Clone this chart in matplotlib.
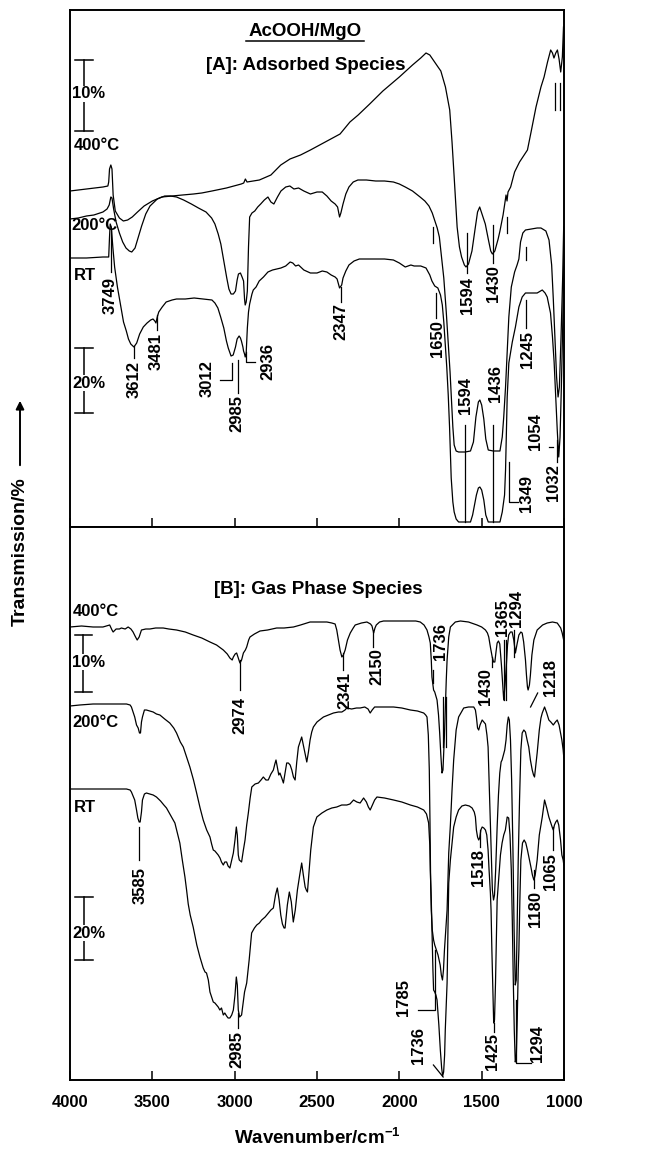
import matplotlib.pyplot as plt

plt.rcParams["font.family"] = ["Liberation Sans", "DejaVu Sans"]
plt.rcParams["font.weight"] = "bold"

# ---------------------------------------------------------------------------
# [A] adsorbed species: wavenumber (cm-1) / offset transmission (a.u.)
# ---------------------------------------------------------------------------
a400_wn = [4000, 3900, 3800, 3770, 3765, 3760, 3752, 3745, 3738, 3725, 3700, 3676,
           3650, 3622, 3590, 3550, 3500, 3443, 3380, 3317, 3250, 3200, 3138, 3050,
           2960, 2945, 2935, 2925, 2850, 2780, 2720, 2664, 2600, 2540, 2450, 2360,
           2300, 2250, 2180, 2100, 2000, 1920, 1870, 1838, 1815, 1790, 1765, 1748,
           1720, 1694, 1680, 1667, 1649, 1635, 1622, 1605, 1595, 1580, 1559, 1540,
           1525, 1512, 1500, 1478, 1460, 1445, 1435, 1420, 1400, 1389, 1370, 1360,
           1352, 1346, 1340, 1324, 1300, 1270, 1250, 1222, 1200, 1170, 1140, 1121,
           1100, 1081, 1070, 1061, 1050, 1040, 1030, 1020, 1010, 1003]
a400_t = [336, 338, 340, 341, 345, 358, 362, 358, 332, 316, 309, 306,
          307, 310, 315, 321, 326, 330, 331, 332, 333, 334, 336, 339,
          343, 344, 348, 345, 347, 352, 362, 368, 372, 377, 385, 393,
          405, 412, 423, 436, 450, 462, 469, 474, 472, 466, 460, 456,
          440, 417, 385, 350, 300, 280, 270, 262, 260, 263, 276, 298,
          315, 320, 314, 303, 288, 276, 273, 276, 288, 296, 312, 323,
          332, 326, 335, 340, 355, 365, 370, 377, 395, 420, 440, 450,
          465, 477, 474, 469, 474, 477, 468, 455, 470, 500]

a200_wn = [4000, 3950, 3900, 3855, 3800, 3775, 3762, 3752, 3745, 3735, 3720, 3700,
           3680, 3660, 3640, 3625, 3605, 3585, 3565, 3540, 3514, 3470, 3425, 3390,
           3353, 3310, 3263, 3220, 3174, 3140, 3120, 3100, 3084, 3065, 3048, 3035,
           3022, 3008, 2995, 2985, 2977, 2965, 2955, 2946, 2940, 2936, 2930, 2923,
           2916, 2909, 2895, 2878, 2860, 2842, 2820, 2798, 2780, 2762, 2740, 2719,
           2690, 2665, 2640, 2612, 2580, 2540, 2500, 2468, 2440, 2414, 2390, 2375,
           2363, 2355, 2342, 2325, 2306, 2280, 2252, 2200, 2144, 2090, 2036, 2000,
           1964, 1920, 1874, 1845, 1820, 1800, 1784, 1770, 1757, 1745, 1730, 1715,
           1703, 1692, 1685, 1675, 1667, 1655, 1640, 1600, 1568, 1550, 1535, 1520,
           1511, 1500, 1487, 1475, 1460, 1430, 1389, 1375, 1366, 1355, 1345, 1335,
           1320, 1300, 1285, 1274, 1264, 1250, 1234, 1200, 1163, 1140, 1110, 1091,
           1075, 1065, 1055, 1045, 1036, 1028, 1018, 1008, 1002]
a200_t = [308, 309, 311, 312, 315, 318, 322, 330, 329, 318, 305, 294,
          285, 279, 276, 275, 279, 290, 301, 313, 321, 328, 331, 331,
          330, 327, 323, 319, 315, 309, 303, 293, 283, 265, 249, 238,
          233, 233, 236, 247, 253, 254, 250, 246, 228, 222, 225, 236,
          280, 310, 314, 316, 320, 323, 327, 330, 325, 323, 330, 336,
          340, 341, 338, 339, 336, 333, 335, 335, 331, 326, 323, 320,
          310, 314, 323, 333, 340, 345, 347, 347, 346, 346, 345, 343,
          340, 336, 330, 326, 321, 314, 306, 299, 290, 272, 249, 215,
          183, 155, 132, 100, 82, 76, 75, 75, 76, 85, 110, 125,
          127, 122, 108, 88, 77, 76, 76, 90, 110, 140, 175, 210,
          240, 255, 262, 268, 285, 294, 297, 298, 299, 299, 296, 287,
          262, 228, 190, 150, 130, 140, 190, 250, 300]

art_wn = [4000, 3900, 3800, 3765, 3760, 3756, 3749, 3740, 3729, 3712, 3694, 3675,
          3658, 3645, 3631, 3612, 3595, 3577, 3555, 3532, 3510, 3496, 3485, 3478,
          3470, 3461, 3440, 3416, 3380, 3353, 3300, 3246, 3190, 3138, 3120, 3102,
          3085, 3066, 3050, 3039, 3022, 3009, 2995, 2985, 2973, 2965, 2959, 2950,
          2946, 2940, 2936, 2930, 2923, 2916, 2909, 2895, 2887, 2870, 2851, 2825,
          2798, 2770, 2744, 2719, 2690, 2663, 2647, 2630, 2612, 2580, 2540, 2500,
          2468, 2440, 2414, 2390, 2378, 2363, 2350, 2342, 2325, 2306, 2275, 2243,
          2150, 2090, 2036, 2000, 1964, 1930, 1910, 1870, 1838, 1815, 1802, 1785,
          1766, 1750, 1739, 1730, 1721, 1712, 1703, 1695, 1685, 1675, 1667, 1655,
          1640, 1600, 1568, 1555, 1540, 1532, 1520, 1511, 1500, 1487, 1475, 1460,
          1430, 1389, 1375, 1361, 1355, 1345, 1335, 1314, 1295, 1274, 1254, 1234,
          1200, 1163, 1132, 1115, 1102, 1082, 1070, 1060, 1050, 1041, 1032, 1024,
          1016, 1008, 1002]
art_t = [269, 269, 270, 270, 290, 303, 300, 280, 260, 240, 223, 205,
         196, 188, 183, 180, 184, 193, 200, 204, 207, 208, 206, 204,
         210, 215, 220, 225, 227, 228, 228, 229, 228, 227, 224, 219,
         210, 199, 186, 179, 171, 172, 180, 188, 191, 189, 186, 180,
         176, 173, 170, 174, 199, 215, 223, 233, 237, 240, 246, 250,
         255, 257, 258, 259, 261, 265, 264, 261, 262, 257, 254, 254,
         256, 255, 252, 250, 248, 239, 242, 249, 256, 262, 266, 268,
         268, 268, 267, 264, 260, 262, 261, 261, 259, 252, 246, 241,
         239, 232, 222, 205, 183, 160, 132, 100, 49, 25, 15, 8,
         5, 5, 5, 12, 25, 32, 39, 40, 37, 27, 12, 5,
         5, 5, 15, 32, 57, 130, 164, 185, 200, 220, 230, 234,
         234, 234, 237, 234, 230, 214, 190, 165, 130, 97, 70, 90,
         140, 200, 260]

# ---------------------------------------------------------------------------
# [B] gas phase species
# ---------------------------------------------------------------------------
b400_wn = [4000, 3930, 3860, 3800, 3759, 3745, 3738, 3720, 3700, 3688, 3665, 3647,
           3630, 3617, 3605, 3592, 3580, 3566, 3540, 3515, 3480, 3434, 3400, 3353,
           3300, 3252, 3200, 3150, 3110, 3069, 3045, 3029, 3015, 3008, 2997, 2988,
           2978, 2968, 2958, 2947, 2935, 2927, 2915, 2907, 2880, 2846, 2800, 2745,
           2700, 2643, 2600, 2542, 2490, 2440, 2410, 2390, 2380, 2370, 2360, 2349,
           2340, 2329, 2315, 2298, 2280, 2268, 2230, 2197, 2175, 2166, 2156, 2148,
           2140, 2120, 2096, 2000, 1933, 1900, 1873, 1850, 1832, 1820, 1812, 1806,
           1802, 1792, 1785, 1771, 1762, 1755, 1748, 1741, 1735, 1731, 1726, 1721,
           1715, 1710, 1700, 1690, 1660, 1629, 1580, 1528, 1500, 1477, 1465, 1457,
           1446, 1436, 1428, 1420, 1413, 1406, 1398, 1390, 1380, 1372, 1366, 1358,
           1350, 1343, 1336, 1325, 1315, 1305, 1295, 1285, 1274, 1262, 1254, 1245,
           1234, 1228, 1222, 1218, 1210, 1204, 1195, 1183, 1163, 1130, 1102, 1070,
           1041, 1020, 1011, 1002]
b400_t = [453, 454, 453, 453, 455, 450, 448, 451, 451, 452, 451, 453,
          451, 448, 444, 440, 443, 450, 451, 451, 452, 452, 451, 450,
          448, 445, 442, 438, 435, 430, 426, 422, 420, 423, 426, 427,
          422, 417, 420, 427, 430, 433, 440, 443, 446, 449, 450, 452,
          452, 453, 455, 458, 458, 458, 457, 456, 450, 440, 430, 423,
          425, 430, 440, 447, 452, 455, 457, 458, 456, 454, 447, 452,
          455, 458, 459, 459, 459, 459, 458, 455, 450, 443, 437, 420,
          403, 390, 388, 380, 365, 347, 325, 307, 310, 325, 345, 370,
          400, 420, 443, 453, 458, 459, 458, 455, 453, 450, 447, 443,
          432, 423, 418, 418, 428, 437, 439, 436, 415, 395, 380, 395,
          415, 435, 445, 448, 448, 440, 427, 436, 445, 448, 447, 438,
          420, 405, 393, 390, 395, 405, 425, 440, 450, 455, 457, 458,
          457, 452, 447, 440]

b200_wn = [4000, 3941, 3860, 3750, 3657, 3635, 3627, 3615, 3607, 3596, 3586, 3578,
           3572, 3566, 3560, 3548, 3536, 3515, 3495, 3475, 3454, 3425, 3394, 3370,
           3353, 3330, 3312, 3290, 3272, 3250, 3231, 3210, 3191, 3170, 3150, 3140,
           3130, 3120, 3110, 3100, 3089, 3080, 3069, 3060, 3049, 3040, 3029, 3018,
           3008, 2998, 2990, 2984, 2978, 2972, 2958, 2947, 2937, 2927, 2917, 2906,
           2896, 2876, 2856, 2840, 2826, 2810, 2796, 2780, 2765, 2756, 2749, 2740,
           2732, 2725, 2714, 2704, 2694, 2684, 2674, 2663, 2653, 2643, 2633, 2623,
           2613, 2603, 2593, 2583, 2572, 2562, 2552, 2542, 2532, 2522, 2500, 2461,
           2430, 2400, 2370, 2349, 2330, 2319, 2290, 2260, 2238, 2210, 2190, 2177,
           2165, 2150, 2136, 2080, 2035, 1985, 1933, 1890, 1852, 1840, 1832, 1824,
           1818, 1814, 1810, 1806, 1800, 1792, 1785, 1775, 1765, 1752, 1745, 1738,
           1732, 1726, 1718, 1710, 1705, 1700, 1690, 1680, 1670, 1655, 1640, 1609,
           1580, 1548, 1538, 1532, 1525, 1518, 1510, 1497, 1487, 1477, 1468, 1461,
           1455, 1447, 1440, 1435, 1428, 1422, 1415, 1406, 1398, 1390, 1382, 1376,
           1368, 1360, 1352, 1345, 1338, 1332, 1325, 1318, 1310, 1303, 1296, 1290,
           1284, 1278, 1270, 1262, 1254, 1244, 1234, 1224, 1214, 1204, 1193, 1185,
           1179, 1171, 1163, 1150, 1140, 1132, 1118, 1105, 1092, 1080, 1065, 1052,
           1041, 1030, 1021, 1013, 1005, 1001]
b200_t = [374, 375, 376, 376, 376, 375, 373, 367, 363, 355, 352, 347,
          347, 358, 363, 370, 370, 369, 368, 366, 365, 361, 357, 352,
          347, 338, 333, 322, 313, 300, 287, 272, 260, 250, 243, 236,
          230, 229, 227, 225, 222, 218, 215, 218, 218, 214, 212, 220,
          227, 240, 253, 245, 225, 220, 218, 230, 240, 255, 267, 282,
          293, 296, 297, 300, 303, 300, 300, 306, 310, 316, 320, 312,
          305, 307, 302, 297, 307, 317, 317, 315, 310, 303, 300, 318,
          333, 338, 343, 335, 326, 318, 328, 340, 348, 353, 358, 363,
          365, 367, 368, 368, 370, 372, 371, 372, 372, 373, 371, 367,
          370, 373, 373, 373, 373, 372, 370, 369, 367, 365, 363, 345,
          310, 260, 200, 170, 150, 140, 135, 130, 125, 115, 105, 100,
          110, 130, 150, 170, 200, 227, 255, 290, 320, 350, 363, 372,
          373, 373, 370, 363, 352, 350, 355, 360, 358, 356, 345, 333,
          300, 253, 220, 190, 180, 185, 210, 253, 285, 307, 318, 320,
          325, 330, 340, 355, 363, 360, 340, 300, 230, 150, 95, 100,
          160, 220, 280, 330, 347, 350, 348, 340, 333, 320, 310, 305,
          303, 315, 327, 350, 362, 367, 373, 367, 360, 358, 355, 358,
          360, 355, 347, 340, 330, 322]

brt_wn = [4000, 3930, 3860, 3750, 3657, 3635, 3627, 3617, 3607, 3596, 3588, 3580,
          3574, 3566, 3560, 3548, 3536, 3515, 3495, 3475, 3450, 3430, 3414, 3390,
          3363, 3348, 3333, 3318, 3302, 3292, 3282, 3270, 3252, 3230, 3211, 3191,
          3180, 3171, 3160, 3150, 3140, 3130, 3120, 3110, 3100, 3090, 3080, 3069,
          3060, 3049, 3040, 3029, 3018, 3008, 2998, 2990, 2984, 2978, 2970, 2958,
          2950, 2940, 2927, 2912, 2897, 2880, 2866, 2850, 2836, 2815, 2795, 2780,
          2765, 2752, 2741, 2730, 2720, 2710, 2700, 2694, 2680, 2668, 2656, 2644,
          2632, 2619, 2605, 2593, 2583, 2572, 2565, 2558, 2550, 2538, 2522, 2501,
          2470, 2440, 2410, 2380, 2350, 2319, 2300, 2278, 2258, 2238, 2217, 2200,
          2188, 2177, 2166, 2150, 2136, 2090, 2035, 1985, 1933, 1890, 1852, 1835,
          1822, 1815, 1812, 1806, 1802, 1796, 1792, 1785, 1778, 1771, 1760, 1751,
          1743, 1737, 1731, 1725, 1721, 1715, 1710, 1705, 1700, 1690, 1680, 1670,
          1655, 1640, 1620, 1599, 1575, 1558, 1545, 1538, 1532, 1525, 1518, 1512,
          1505, 1497, 1487, 1477, 1469, 1461, 1455, 1447, 1443, 1438, 1433, 1427,
          1422, 1416, 1410, 1406, 1396, 1386, 1376, 1366, 1356, 1345, 1336, 1328,
          1320, 1314, 1308, 1302, 1296, 1290, 1284, 1278, 1274, 1268, 1262, 1252,
          1242, 1232, 1222, 1212, 1201, 1192, 1183, 1175, 1163, 1150, 1132, 1118,
          1105, 1092, 1080, 1070, 1065, 1058, 1050, 1041, 1032, 1021, 1013, 1005,
          1001]
brt_t = [291, 291, 291, 291, 291, 290, 288, 284, 280, 270, 262, 258,
         258, 268, 280, 286, 287, 286, 285, 283, 279, 275, 272, 265,
         257, 247, 237, 220, 203, 190, 176, 165, 153, 135, 123, 112,
         108, 107, 100, 88, 83, 78, 77, 75, 73, 70, 72, 65,
         67, 64, 62, 62, 65, 70, 85, 103, 95, 70, 63, 65,
         75, 88, 97, 120, 147, 152, 155, 157, 160, 163, 167, 170,
         172, 185, 192, 180, 165, 156, 152, 152, 175, 188, 178, 158,
         170, 190, 205, 217, 205, 193, 190, 188, 205, 230, 253, 263,
         267, 270, 272, 273, 275, 275, 276, 280, 278, 277, 282, 278,
         273, 270, 274, 280, 283, 282, 280, 278, 275, 273, 270, 266,
         257, 235, 210, 180, 150, 110, 90, 88, 85, 80, 55, 30,
         12, 4, 8, 25, 50, 75, 97, 150, 197, 220, 237, 253,
         263, 270, 274, 275, 274, 272, 268, 263, 250, 243, 240, 242,
         250, 253, 252, 250, 245, 230, 210, 187, 170, 130, 97, 57,
         60, 97, 150, 180, 203, 225, 237, 245, 250, 263, 262, 245,
         210, 160, 100, 50, 18, 22, 60, 110, 130, 180, 220, 237,
         240, 237, 230, 222, 213, 205, 200, 205, 220, 245, 263, 280,
         272, 263, 257, 252, 250, 255, 258, 260, 255, 240, 225, 220,
         215]

TICKS = [4000, 3500, 3000, 2500, 2000, 1500, 1000]

# band labels: text, wavenumber, height of text centre
BANDS_A = [("3749", 3758, 232), ("3612", 3612, 147), ("3481", 3474, 176),
           ("3012", 3165, 148), ("2985", 2987, 114), ("2936", 2797, 166),
           ("2347", 2353, 205), ("1650", 1766, 188), ("1594", 1588, 232),
           ("1430", 1428, 243), ("1594", 1598, 131), ("1436", 1416, 144),
           ("1245", 1221, 178), ("1054", 1172, 95), ("1349", 1229, 34),
           ("1032", 1063, 44)]
LEADERS_A = [[(3754, 297), (3754, 255)], [(3612, 181), (3612, 169)],
             [(3474, 212), (3474, 197)], [(3018, 164), (3018, 147), (3089, 147)],
             [(2978, 167), (2978, 134)], [(2931, 175), (2931, 165), (2876, 165)],
             [(2353, 240), (2353, 225)], [(1775, 234), (1775, 209)],
             [(1793, 300), (1793, 284)], [(1588, 294), (1588, 254)],
             [(1430, 302), (1430, 264)], [(1604, 102), (1604, 5)],
             [(1430, 102), (1430, 5)], [(1233, 280), (1233, 267)],
             [(1233, 227), (1233, 199)], [(1093, 80), (1069, 80)],
             [(1336, 65), (1336, 25), (1282, 25)], [(1045, 87), (1045, 65)],
             [(1057, 444), (1057, 417)], [(1026, 444), (1026, 417)],
             [(1344, 310), (1344, 294)]]

BANDS_B = [("2974", 2967, 365), ("2341", 2329, 390), ("2150", 2136, 413),
           ("1736", 1750, 439), ("1430", 1477, 393), ("1365", 1375, 463),
           ("1294", 1290, 472), ("1218", 1083, 403), ("3585", 3575, 195),
           ("1518", 1519, 213), ("1180", 1172, 171), ("1065", 1081, 208),
           ("2985", 2987, 31), ("1785", 1972, 82), ("1736", 1881, 35),
           ("1425", 1436, 28), ("1294", 1162, 37)]
LEADERS_B = [[(2967, 420), (2967, 390)], [(2342, 427), (2342, 410)],
             [(2158, 448), (2158, 433)], [(1793, 410), (1793, 397)],
             [(1732, 383), (1732, 333)], [(1714, 383), (1714, 333)],
             [(1436, 423), (1436, 413)], [(1367, 440), (1367, 380)],
             [(1354, 440), (1354, 380)], [(1306, 450), (1306, 423)],
             [(1160, 387), (1203, 373)], [(3582, 253), (3582, 220)],
             [(1513, 250), (1513, 233)], [(1184, 210), (1184, 192)],
             [(1065, 253), (1065, 230)], [(2980, 67), (2980, 52)],
             [(1884, 70), (1781, 70), (1781, 130)], [(1793, 15), (1734, 3)],
             [(1426, 57), (1426, 48)], [(1294, 80), (1294, 17), (1203, 17)]]


def style_axes(ax, top):
    ax.set_xlim(4000, 1000)
    ax.set_ylim(0, top)
    ax.set_xticks(TICKS)
    ax.set_yticks([])
    ax.tick_params(axis="x", direction="in", length=6.5, width=1.1,
                   labelsize=12, pad=11)
    for sp in ax.spines.values():
        sp.set_linewidth(1.4)


def scale_bar(ax, wn, h0, h1, label, label_h):
    ax.plot([wn, wn], [h0, h1], color="black", lw=1.1)
    for h in (h0, h1):
        ax.plot([wn + 50, wn - 55], [h, h], color="black", lw=1.1)
    ax.text(3985, label_h, label, ha="left", va="center", fontsize=12,
            bbox=dict(facecolor="white", edgecolor="none", pad=0.5))


def bands(ax, labels, leaders):
    for txt, wn, h in labels:
        ax.text(wn, h, txt, rotation=90, ha="center", va="center", fontsize=12)
    for pts in leaders:
        ax.plot([p[0] for p in pts], [p[1] for p in pts], color="black", lw=0.9)


fig = plt.figure(figsize=(6.5, 11.49), dpi=100)
ax_a = fig.add_axes([70 / 650, 1 - 527 / 1149, 494 / 650, 517 / 1149])
ax_b = fig.add_axes([70 / 650, 1 - 1080 / 1149, 494 / 650, 553 / 1149])

# panel A
for wn, t in [(a400_wn, a400_t), (a200_wn, a200_t), (art_wn, art_t)]:
    ax_a.plot(wn, t, color="black", lw=0.9)
style_axes(ax_a, 517)
ax_a.tick_params(axis="x", labelbottom=False)
ax_a.text(2572, 495, "AcOOH/MgO", ha="center", va="center", fontsize=13.5)
ax_a.plot([2930, 2215], [486, 486], color="black", lw=1.1)
ax_a.text(2566, 462, "[A]: Adsorbed Species", ha="center", va="center", fontsize=13.5)
scale_bar(ax_a, 3917, 467, 396, "10%", 433)
scale_bar(ax_a, 3917, 179, 114, "20%", 144)
ax_a.text(3975, 382, "400°C", ha="left", va="center", fontsize=12)
ax_a.text(3990, 301, "200°C", ha="left", va="center", fontsize=12)
ax_a.text(3975, 252, "RT", ha="left", va="center", fontsize=12)
bands(ax_a, BANDS_A, LEADERS_A)

# panel B
for wn, t in [(b400_wn, b400_t), (b200_wn, b200_t), (brt_wn, brt_t)]:
    ax_b.plot(wn, t, color="black", lw=0.9)
style_axes(ax_b, 553)
ax_b.text(2492, 491, "[B]: Gas Phase Species", ha="center", va="center", fontsize=13.5)
scale_bar(ax_b, 3920, 445, 388, "10%", 418)
scale_bar(ax_b, 3917, 183, 120, "20%", 147)
ax_b.text(3985, 469, "400°C", ha="left", va="center", fontsize=12)
ax_b.text(3985, 358, "200°C", ha="left", va="center", fontsize=12)
ax_b.text(3975, 273, "RT", ha="left", va="center", fontsize=12)
bands(ax_b, BANDS_B, LEADERS_B)

fig.text(317 / 650, 1 - 1138 / 1149, "Wavenumber/cm$^{\\mathregular{-1}}$",
         ha="center", va="center", fontsize=13.5)
fig.text(20 / 650, 1 - 552 / 1149, "Transmission/%", rotation=90,
         ha="center", va="center", fontsize=14)
fig.patches.append(plt.matplotlib.patches.FancyArrowPatch(
    (20 / 650, 1 - 468 / 1149), (20 / 650, 1 - 398 / 1149),
    transform=fig.transFigure, arrowstyle="-|>", mutation_scale=12,
    color="black", lw=1.4))

fig.savefig("out.png", dpi=100)
